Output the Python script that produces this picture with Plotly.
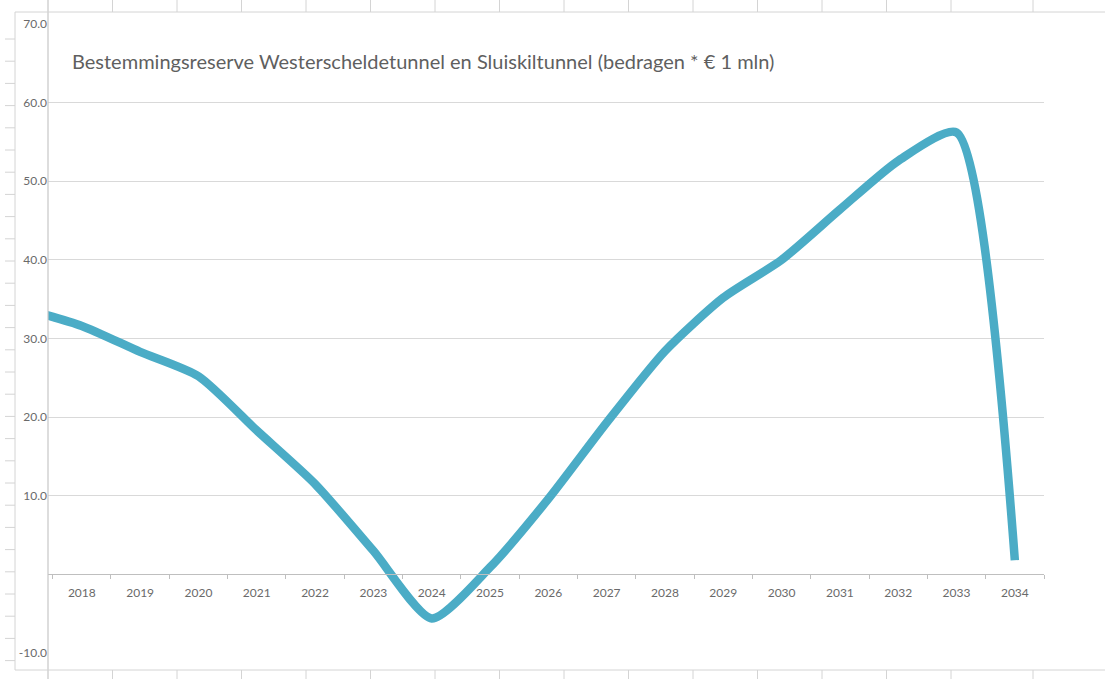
import plotly.graph_objects as go

# ---- data ----
years = ["2017", "2018", "2019", "2020", "2021", "2022", "2023", "2024", "2025",
         "2026", "2027", "2028", "2029", "2030", "2031", "2032", "2033", "2034"]
reserve = [33.8, 31.6, 28.3, 25.2, 18.3, 11.5, 3.0, -5.6, 0.9,
           9.6, 19.3, 28.4, 35.2, 40.0, 46.4, 52.6, 56.2, 1.8]
y_tickvals = [-10, 10, 20, 30, 40, 50, 60, 70]
y_ticktext = ["-10.0", "10.0", "20.0", "30.0", "40.0", "50.0", "60.0", "70.0"]
title_text = "Bestemmingsreserve Westerscheldetunnel en Sluiskiltunnel (bedragen * € 1 mln)"

# ---- geometry ----
W, H = 1105, 679
ML, MR, MT, MB = 48, 61, 24, 26
PW, PH = W - ML - MR, H - MT - MB
Y_MIN, Y_MAX = -10, 70


def px_x(px):
    return (px - ML) / PW


def px_y(py):
    return (H - MB - py) / PH


fig = go.Figure()
fig.add_trace(go.Scatter(
    x=years, y=reserve, mode="lines",
    line=dict(color="#4BACC6", width=8.5, shape="spline", smoothing=0.65),
    hoverinfo="x+y", showlegend=False, cliponaxis=True,
))

grid_c = "#d9d9d9"
sheet_c = "#d4d4d4"
shapes = []
# value-axis line extending over full height
shapes.append(dict(type="line", xref="paper", yref="paper", x0=0, x1=0,
                   y0=px_y(H), y1=px_y(0), line=dict(color="#c6c6c6", width=1.2)))
# chart frame
for (x0, y0, x1, y1) in [(15, 12, W, 12), (15, 12, 15, 670), (15, 670, W, 670)]:
    shapes.append(dict(type="line", xref="paper", yref="paper",
                       x0=px_x(x0), x1=px_x(x1), y0=px_y(y0), y1=px_y(y1),
                       line=dict(color=sheet_c, width=1)))
# spreadsheet column lines outside chart frame
cols = [48 + 64.5 * k for k in range(1, 15)] + [1033]
for cx in cols:
    for (a, b) in [(0, 12), (670, H)]:
        shapes.append(dict(type="line", xref="paper", yref="paper",
                           x0=px_x(cx), x1=px_x(cx), y0=px_y(a), y1=px_y(b),
                           line=dict(color=sheet_c, width=1)))
# spreadsheet row lines left of frame
ry = 39.0
while ry < 670:
    shapes.append(dict(type="line", xref="paper", yref="paper",
                       x0=px_x(5), x1=px_x(15), y0=px_y(ry), y1=px_y(ry),
                       line=dict(color=sheet_c, width=1)))
    ry += 22.2

font_family = "Lato, 'Open Sans', sans-serif"

fig.update_layout(
    width=W, height=H,
    margin=dict(l=ML, r=MR, t=MT, b=MB),
    paper_bgcolor="white", plot_bgcolor="white",
    title=dict(text=title_text, x=72 / W, xref="container", xanchor="left",
               y=1 - 62 / H, yref="container", yanchor="middle",
               font=dict(family=font_family, size=20, color="#5f5f5f")),
    xaxis=dict(
        type="category", range=[0.42, len(years) - 0.5],
        anchor="free", position=(0 - Y_MIN) / (Y_MAX - Y_MIN),
        showline=True, linecolor="#bfbfbf", linewidth=1,
        ticks="outside", ticklen=4, tickcolor="#bfbfbf", tickson="boundaries",
        ticklabelstandoff=7,
        showgrid=False, zeroline=False,
        tickfont=dict(family=font_family, size=12, color="#6a6a6a"),
    ),
    yaxis=dict(
        range=[Y_MIN, Y_MAX], tickvals=y_tickvals, ticktext=y_ticktext,
        showgrid=True, gridcolor=grid_c, gridwidth=1,
        zeroline=False, showline=False, ticks="",
        tickfont=dict(family=font_family, size=12, color="#6a6a6a"),
    ),
    shapes=shapes,
    hovermode="closest",
)

fig.write_html(
    "out.html",
    config={"displayModeBar": False},
    post_script="document.body.style.margin='0';document.body.style.overflow='hidden';",
)
